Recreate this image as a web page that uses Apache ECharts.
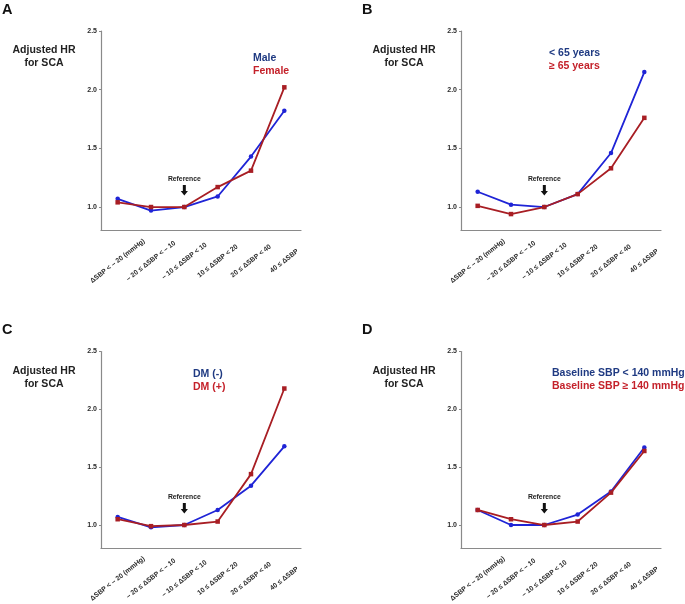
<!DOCTYPE html>
<html><head><meta charset="utf-8">
<script src="https://cdn.jsdelivr.net/npm/echarts@6/dist/echarts.min.js"></script>
<style>html,body{margin:0;padding:0;background:#fff}#c{width:685px;height:604px}</style>
</head><body><div id="c"></div>
<script>
const categories = ['ΔSBP < – 20 (mmHg)', '– 20 ≤ ΔSBP < – 10', '– 10 ≤ ΔSBP < 10', '10 ≤ ΔSBP < 20', '20 ≤ ΔSBP < 40', '40 ≤ ΔSBP'];
const yTicks = [1.0, 1.5, 2.0, 2.5];
const panelLetters = ['A', 'B', 'C', 'D'];
const blueNames = ['Male', '< 65 years', 'DM (-)', 'Baseline SBP < 140 mmHg'];
const redNames = ['Female', '≥ 65 years', 'DM (+)', 'Baseline SBP ≥ 140 mmHg'];
const blueA = [1.07, 0.97, 1.00, 1.09, 1.43, 1.82];
const redA  = [1.04, 1.00, 1.00, 1.17, 1.31, 2.02];
const blueB = [1.13, 1.02, 1.00, 1.11, 1.46, 2.15];
const redB  = [1.01, 0.94, 1.00, 1.11, 1.33, 1.76];
const blueC = [1.07, 0.98, 1.00, 1.13, 1.34, 1.68];
const redC  = [1.05, 0.99, 1.00, 1.03, 1.44, 2.18];
const blueD = [1.13, 1.00, 1.00, 1.09, 1.29, 1.67];
const redD  = [1.13, 1.05, 1.00, 1.03, 1.28, 1.64];
const blueSeries = [blueA, blueB, blueC, blueD];
const redSeries = [redA, redB, redC, redD];
const refIndex = 2;

const offs = [[0, 0], [360, 0], [0, 320.5], [360, 320.5]];
const legendDx = [253, 189, 193, 192];
const legendDy = [0, -5, -4, -5];
const FONT = '"Liberation Sans", Arial, sans-serif';
const BLUE = '#1f24d6', RED = '#a81e24';
const BLUE_T = '#1f3a82', RED_T = '#c4212a';

const chart = echarts.init(document.getElementById('c'), null, {renderer: 'canvas'});
const grids = [], xAxes = [], yAxes = [], series = [], graphics = [];
offs.forEach((o, i) => {
  grids.push({left: 101 + o[0], top: 31 + o[1], width: 200, height: 199.5, containLabel: false});
  xAxes.push({
    type: 'category', gridIndex: i, data: categories, boundaryGap: true,
    axisLine: {lineStyle: {color: '#8a8a8a', width: 1.2}},
    axisTick: {alignWithLabel: true, length: 3, lineStyle: {color: '#8a8a8a'}},
    axisLabel: {interval: 0, rotate: 38, align: 'center', verticalAlign: 'middle', margin: 30.5,
      fontFamily: FONT, fontWeight: 'bold', fontSize: 6.8, color: '#2a2a2a'}
  });
  yAxes.push({
    type: 'value', gridIndex: i, min: 0.8, max: 2.5,
    splitLine: {show: false},
    axisLine: {show: true, lineStyle: {color: '#8a8a8a', width: 1.2}},
    axisTick: {show: true, length: 2, customValues: yTicks, lineStyle: {color: '#8a8a8a'}},
    axisLabel: {customValues: yTicks, formatter: v => v.toFixed(1), margin: 4,
      fontFamily: FONT, fontWeight: 'bold', fontSize: 7, color: '#2a2a2a'}
  });
  series.push({type: 'line', xAxisIndex: i, yAxisIndex: i, data: blueSeries[i], name: blueNames[i],
    symbol: 'circle', symbolSize: 4.5, lineStyle: {color: BLUE, width: 1.8}, itemStyle: {color: BLUE}, z: 3});
  series.push({type: 'line', xAxisIndex: i, yAxisIndex: i, data: redSeries[i], name: redNames[i],
    symbol: 'rect', symbolSize: 4.5, lineStyle: {color: RED, width: 1.8}, itemStyle: {color: RED}, z: 4});
  graphics.push({type: 'text', left: 2 + o[0], top: 2 + o[1],
    style: {text: panelLetters[i], font: 'bold 14.5px ' + FONT, fill: '#111'}});
  graphics.push({type: 'text', x: 44 + o[0], y: 57 + o[1],
    style: {text: 'Adjusted HR\nfor SCA', font: 'bold 10.5px ' + FONT, fill: '#222', align: 'center', verticalAlign: 'middle', lineHeight: 13}});
  graphics.push({type: 'text', x: legendDx[i] + o[0], y: 58 + legendDy[i] + o[1],
    style: {text: blueNames[i], font: 'bold 10.5px ' + FONT, fill: BLUE_T, align: 'left', verticalAlign: 'middle'}});
  graphics.push({type: 'text', x: legendDx[i] + o[0], y: 71 + legendDy[i] + o[1],
    style: {text: redNames[i], font: 'bold 10.5px ' + FONT, fill: RED_T, align: 'left', verticalAlign: 'middle'}});
});
chart.setOption({animation: false, grid: grids, xAxis: xAxes, yAxis: yAxes, series: series});
// reference annotation anchored to the reference category via the axis scales
offs.forEach((o, i) => {
  const p = chart.convertToPixel({gridIndex: i}, [refIndex, 1.0]);
  const cx = p[0], by = p[1];
  graphics.push({type: 'text', x: cx, y: by - 28,
    style: {text: 'Reference', font: 'bold 6.8px ' + FONT, fill: '#222', align: 'center', verticalAlign: 'middle'}});
  graphics.push({type: 'polygon', shape: {points: [
    [cx - 1.5, by - 22], [cx + 1.5, by - 22], [cx + 1.5, by - 16], [cx + 3.6, by - 16],
    [cx, by - 11.5], [cx - 3.6, by - 16], [cx - 1.5, by - 16]]}, style: {fill: '#111'}});
});
chart.setOption({graphic: graphics});
</script></body></html>
